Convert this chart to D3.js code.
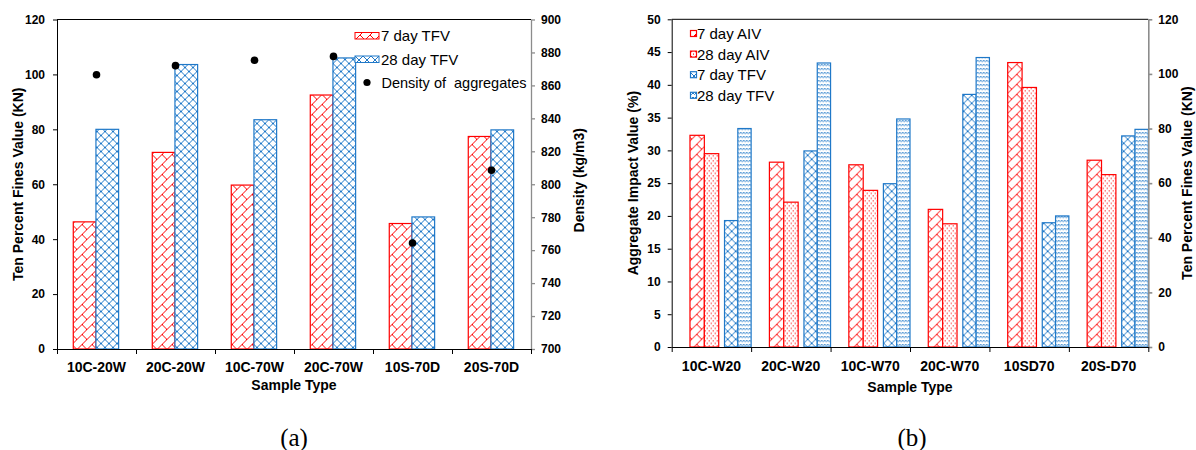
<!DOCTYPE html>
<html>
<head>
<meta charset="utf-8">
<script src="https://cdn.jsdelivr.net/npm/d3@7"></script>
<style>
  body { margin: 0; background: #fff; }
  text { font-family: Arial, "Liberation Sans", sans-serif; }
  .tick text { font-size: 12px; font-weight: bold; fill: #000; }
  .cat { font-size: 14px; font-weight: bold; }
  .title { font-size: 14px; font-weight: bold; }
  .legend { font-size: 15px; }
  .panel { font-family: "Times New Roman", "Liberation Serif", serif; font-size: 25px; }
</style>
</head>
<body>
<script>
// ---- data, panel (a)
var catsA = ["10C-20W", "20C-20W", "10C-70W", "20C-70W", "10S-70D", "20S-70D"];
var tfv7A = [46.3, 71.6, 59.7, 92.5, 45.7, 77.4];
var tfv28A = [80, 103.6, 83.5, 106, 48.1, 79.8];
var densityA = [866.5, 872, 875.3, 877.6, 764.3, 808.5];

// ---- data, panel (b)
var catsB = ["10C-W20", "20C-W20", "10C-W70", "20C-W70", "10SD70", "20S-D70"];
var aiv7B = [32.3, 28.2, 27.8, 21.0, 43.4, 28.5];
var aiv28B = [29.5, 22.1, 23.9, 18.8, 39.6, 26.3];
var tfv7B = [46.3, 71.8, 59.8, 92.5, 45.5, 77.3];
var tfv28B = [80, 104, 83.5, 106, 48, 79.7];

var leftTicks = [0, 20, 40, 60, 80, 100, 120];
var densTicks = [700, 720, 740, 760, 780, 800, 820, 840, 860, 880, 900];
var aivTicks = [0, 5, 10, 15, 20, 25, 30, 35, 40, 45, 50];

var RED = "#ff0000";
var BLUE = "#1f78c8";
var GREY = "#8c8c8c";

var svg = d3.select("body").append("svg")
  .attr("width", 1196)
  .attr("height", 450);

svg.append("rect").attr("width", 1196).attr("height", 450).attr("fill", "#fff");

// patterns
var defs = svg.append("defs");

function pattern(id, w, h, color, draw) {
  var p = defs.append("pattern")
    .attr("id", id)
    .attr("patternUnits", "userSpaceOnUse")
    .attr("width", w)
    .attr("height", h);
  p.append("rect").attr("width", w).attr("height", h).attr("fill", "#fff");
  draw(p, color);
}

function brick(p, c) {
  p.append("path")
    .attr("d", "M-1,11 L11,-1 M5,5 L10,10")
    .attr("stroke", c).attr("stroke-width", 1).attr("fill", "none");
}
function diamond(p, c) {
  p.append("path")
    .attr("d", "M0,0 L8,8 M8,0 L0,8")
    .attr("stroke", c).attr("stroke-width", 1).attr("fill", "none");
}
function dots(p, c) {
  p.append("rect").attr("x", 1).attr("y", 1).attr("width", 1).attr("height", 1.2).attr("fill", c);
  p.append("rect").attr("x", 3).attr("y", 3.5).attr("width", 1).attr("height", 1.2).attr("fill", c);
}
function wave(p, c) {
  p.append("path")
    .attr("d", "M0,1 Q1.5,4 3,1 Q4.5,4 6,1")
    .attr("stroke", c).attr("stroke-width", 1).attr("fill", "none");
}

pattern("brickRedA", 10, 10, RED, brick);
pattern("diaBlueA", 8, 8, BLUE, diamond);
pattern("brickRedB", 10, 10, RED, brick);
pattern("dotRedB", 4, 5, RED, dots);
pattern("diaBlueB", 8, 8, BLUE, diamond);
pattern("waveBlueB", 6, 4, BLUE, wave);

function bottomAxis(g, height, width, n) {
  var lin = d3.scaleLinear().domain([0, n]).range([0, width]);
  var ax = g.append("g")
    .attr("transform", `translate(0, ${height})`)
    .call(d3.axisBottom(lin).tickValues(d3.range(n + 1)).tickFormat("").tickSize(5).tickSizeOuter(0));
  ax.selectAll("line").attr("stroke", "#000");
  ax.select(".domain").attr("stroke", "#000");
}

// ================= panel (a) =================
var A = { left: 57, top: 19.5, width: 474, height: 329.5 };
var gA = svg.append("g").attr("transform", `translate(${A.left}, ${A.top})`);

var xA = d3.scaleBand().domain(catsA).range([0, A.width]);
var xAs = d3.scaleBand().domain(["t7", "t28"])
  .range([xA.bandwidth() * 0.206, xA.bandwidth() * 0.78]);
var yA = d3.scaleLinear().domain([0, 120]).range([A.height, 0]);
var yD = d3.scaleLinear().domain([700, 900]).range([A.height, 0]);

gA.append("line").attr("x1", 0).attr("x2", A.width).attr("y1", 0).attr("y2", 0).attr("stroke", "#000");

var barsA = [
  { key: "t7", vals: tfv7A, fill: "url(#brickRedA)", stroke: RED },
  { key: "t28", vals: tfv28A, fill: "url(#diaBlueA)", stroke: BLUE }
];
barsA.forEach(function(s) {
  gA.selectAll(null)
    .data(catsA)
    .enter()
    .append("rect")
    .attr("x", d => xA(d) + xAs(s.key))
    .attr("width", xAs.bandwidth())
    .attr("y", (d, i) => yA(s.vals[i]))
    .attr("height", (d, i) => A.height - yA(s.vals[i]))
    .attr("fill", s.fill)
    .attr("stroke", s.stroke)
    .attr("stroke-width", 1.2);
});

gA.selectAll("circle")
  .data(catsA)
  .enter()
  .append("circle")
  .attr("cx", d => xA(d) + xA.bandwidth() / 2)
  .attr("cy", (d, i) => yD(densityA[i]))
  .attr("r", 3.8)
  .attr("fill", "#000");

var axL = gA.append("g")
  .call(d3.axisLeft(yA).tickValues(leftTicks).tickSize(4).tickSizeOuter(0).tickPadding(8));
axL.selectAll("line, .domain").attr("stroke", "#000");

var axR = gA.append("g")
  .attr("transform", `translate(${A.width}, 0)`)
  .call(d3.axisRight(yD).tickValues(densTicks).tickSize(4).tickSizeOuter(0).tickPadding(6));
axR.selectAll("line, .domain").attr("stroke", GREY).attr("stroke-width", 1.3);

bottomAxis(gA, A.height, A.width, catsA.length);

gA.selectAll(".catA")
  .data(catsA)
  .enter()
  .append("text")
  .attr("class", "cat")
  .attr("x", d => xA(d) + xA.bandwidth() / 2)
  .attr("y", A.height + 23)
  .attr("text-anchor", "middle")
  .text(d => d);

gA.append("text")
  .attr("class", "title")
  .attr("x", A.width / 2)
  .attr("y", A.height + 41)
  .attr("text-anchor", "middle")
  .text("Sample Type");

gA.append("text")
  .attr("class", "title")
  .attr("transform", "rotate(-90)")
  .attr("x", -A.height / 2)
  .attr("y", -34)
  .attr("text-anchor", "middle")
  .text("Ten Percent Fines Value (KN)");

gA.append("text")
  .attr("class", "title")
  .attr("transform", "rotate(-90)")
  .attr("x", -A.height / 2 + 4)
  .attr("y", A.width + 53)
  .attr("text-anchor", "middle")
  .text("Density (kg/m3)");

// legend (a)
var legA = svg.append("g").attr("transform", "translate(355, 0)");
legA.append("rect").attr("x", 0).attr("y", 32.5).attr("width", 24).attr("height", 6.5)
  .attr("fill", "url(#brickRedA)").attr("stroke", RED);
legA.append("text").attr("class", "legend").attr("x", 26).attr("y", 41).text("7 day TFV");
legA.append("rect").attr("x", 0).attr("y", 56).attr("width", 24).attr("height", 6.5)
  .attr("fill", "url(#diaBlueA)").attr("stroke", BLUE);
legA.append("text").attr("class", "legend").attr("x", 26).attr("y", 64.5).text("28 day TFV");
legA.append("circle").attr("cx", 12).attr("cy", 82.5).attr("r", 3.6).attr("fill", "#000");
legA.append("text").attr("class", "legend").attr("x", 26.5).attr("y", 88)
  .style("white-space", "pre").style("font-size", "14.5px").text("Density of  aggregates");

svg.append("text")
  .attr("class", "panel")
  .attr("x", 294)
  .attr("y", 446)
  .attr("text-anchor", "middle")
  .text("(a)");

// ================= panel (b) =================
var B = { left: 671.7, top: 19.3, width: 476.6, height: 327.7 };
var gB = svg.append("g").attr("transform", `translate(${B.left}, ${B.top})`);

var xB = d3.scaleBand().domain(catsB).range([0, B.width]);
var xAiv = d3.scaleBand().domain(["a7", "a28"])
  .range([xB.bandwidth() * 0.23, xB.bandwidth() * 0.592]);
var xTfv = d3.scaleBand().domain(["t7", "t28"])
  .range([xB.bandwidth() * 0.665, xB.bandwidth() * 1.0]);
var yAiv = d3.scaleLinear().domain([0, 50]).range([B.height, 0]);
var yTfv = d3.scaleLinear().domain([0, 120]).range([B.height, 0]);

gB.append("line").attr("x1", 0).attr("x2", B.width).attr("y1", 0).attr("y2", 0).attr("stroke", "#000");

var barsB = [
  { key: "a7", sub: xAiv, y: yAiv, vals: aiv7B, fill: "url(#brickRedB)", stroke: RED },
  { key: "a28", sub: xAiv, y: yAiv, vals: aiv28B, fill: "url(#dotRedB)", stroke: RED },
  { key: "t7", sub: xTfv, y: yTfv, vals: tfv7B, fill: "url(#diaBlueB)", stroke: BLUE },
  { key: "t28", sub: xTfv, y: yTfv, vals: tfv28B, fill: "url(#waveBlueB)", stroke: BLUE }
];
barsB.forEach(function(s) {
  gB.selectAll(null)
    .data(catsB)
    .enter()
    .append("rect")
    .attr("x", d => xB(d) + s.sub(s.key))
    .attr("width", s.sub.bandwidth())
    .attr("y", (d, i) => s.y(s.vals[i]))
    .attr("height", (d, i) => B.height - s.y(s.vals[i]))
    .attr("fill", s.fill)
    .attr("stroke", s.stroke)
    .attr("stroke-width", 1.2);
});

var axBL = gB.append("g")
  .call(d3.axisLeft(yAiv).tickValues(aivTicks).tickSize(4).tickSizeOuter(0).tickPadding(7));
axBL.selectAll("line, .domain").attr("stroke", "#000");

var axBR = gB.append("g")
  .attr("transform", `translate(${B.width}, 0)`)
  .call(d3.axisRight(yTfv).tickValues(leftTicks).tickSize(4).tickSizeOuter(0).tickPadding(6));
axBR.selectAll("line, .domain").attr("stroke", GREY).attr("stroke-width", 1.6);

bottomAxis(gB, B.height, B.width, catsB.length);

gB.selectAll(".catB")
  .data(catsB)
  .enter()
  .append("text")
  .attr("class", "cat")
  .attr("x", d => xB(d) + xB.bandwidth() / 2)
  .attr("y", B.height + 24)
  .attr("text-anchor", "middle")
  .text(d => d);

gB.append("text")
  .attr("class", "title")
  .attr("x", B.width / 2)
  .attr("y", B.height + 45)
  .attr("text-anchor", "middle")
  .text("Sample Type");

gB.append("text")
  .attr("class", "title")
  .attr("transform", "rotate(-90)")
  .attr("x", -B.height / 2)
  .attr("y", -34)
  .attr("text-anchor", "middle")
  .text("Aggregate Impact Value (%)");

gB.append("text")
  .attr("class", "title")
  .attr("transform", "rotate(-90)")
  .attr("x", -B.height / 2)
  .attr("y", B.width + 44)
  .attr("text-anchor", "middle")
  .text("Ten Percent Fines Value (KN)");

// legend (b)
var legB = svg.append("g").attr("transform", "translate(690, 0)");
var legItems = [
  { label: "7 day AIV", fill: "url(#brickRedB)", stroke: RED },
  { label: "28 day AIV", fill: "url(#dotRedB)", stroke: RED },
  { label: "7 day TFV", fill: "url(#diaBlueB)", stroke: BLUE },
  { label: "28 day TFV", fill: "url(#waveBlueB)", stroke: BLUE }
];
legItems.forEach(function(it, i) {
  var cy = 33.5 + i * 20.6;
  legB.append("rect").attr("x", 0.5).attr("y", cy - 3).attr("width", 6).attr("height", 6)
    .attr("fill", it.fill).attr("stroke", it.stroke).attr("stroke-width", 1.2);
  legB.append("text").attr("class", "legend").attr("x", 7).attr("y", cy + 5.5).text(it.label);
});

svg.append("text")
  .attr("class", "panel")
  .attr("x", 912)
  .attr("y", 446)
  .attr("text-anchor", "middle")
  .text("(b)");
</script>
</body>
</html>
